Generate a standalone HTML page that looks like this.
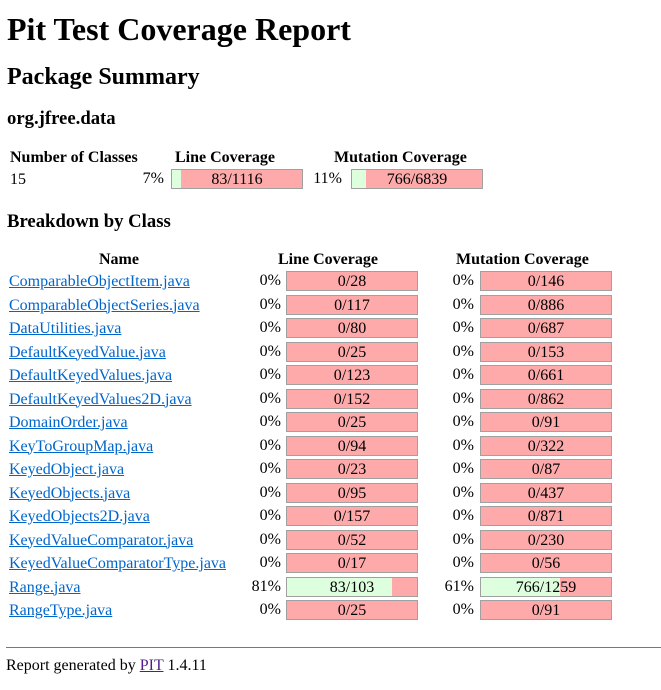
<!DOCTYPE html>
<html><head><meta charset="utf-8">
<style>
body{margin:0;width:661px;height:690px;background:#fff;font-family:"Liberation Serif",serif;font-size:16px;color:#000;position:relative;overflow:hidden}
.a{position:absolute;white-space:nowrap;line-height:1}
h1,h2,h3{margin:0;position:absolute;white-space:nowrap;line-height:1}
h1{font-size:32px;left:7px;top:13px}
h2{font-size:24px;left:7px;top:65px}
h3{font-size:18.7px;left:7px}
.th{font-weight:bold;font-size:16px}
.bar{position:absolute;height:18px;border:1px solid #a0a0a0;background:#faa;box-sizing:content-box}
.bar .g{position:absolute;left:0;top:0;height:100%;background:#dfd}
.bar .t{position:absolute;left:0;right:0;top:2px;text-align:center;line-height:1}
a{color:#06c;text-decoration:underline}
.pc{text-align:right;width:40px}
</style></head><body>
<h1>Pit Test Coverage Report</h1>
<h2>Package Summary</h2>
<h3 style="top:110px">org.jfree.data</h3>

<div class="a th" style="left:10px;top:150px">Number of Classes</div>
<div class="a th" style="left:175px;top:150px">Line Coverage</div>
<div class="a th" style="left:334px;top:150px">Mutation Coverage</div>
<div class="a" style="left:10px;top:172px">15</div>
<div class="a pc" style="left:124px;top:171px">7%</div>
<div class="bar" style="left:171px;top:169px;width:130px"><div class="g" style="width:7%"></div><div class="t">83/1116</div></div>
<div class="a pc" style="left:302px;top:171px">11%</div>
<div class="bar" style="left:351px;top:169px;width:130px"><div class="g" style="width:11%"></div><div class="t">766/6839</div></div>

<h3 style="top:213px">Breakdown by Class</h3>
<div class="a th" style="left:99px;top:252px">Name</div>
<div class="a th" style="left:278px;top:252px">Line Coverage</div>
<div class="a th" style="left:456px;top:252px">Mutation Coverage</div>
<div id="rows"></div>

<div class="a" style="left:6px;top:647px;width:655px;height:0;border-top:1px solid #777"></div>
<div class="a" style="left:6px;top:658px">Report generated by <a href="#" style="color:#551a8b">PIT</a> 1.4.11</div>

<script>
const names=["ComparableObjectItem.java","ComparableObjectSeries.java","DataUtilities.java","DefaultKeyedValue.java","DefaultKeyedValues.java","DefaultKeyedValues2D.java","DomainOrder.java","KeyToGroupMap.java","KeyedObject.java","KeyedObjects.java","KeyedObjects2D.java","KeyedValueComparator.java","KeyedValueComparatorType.java","Range.java","RangeType.java"];
const lineCovered=[0,0,0,0,0,0,0,0,0,0,0,0,0,83,0];
const lineTotal=[28,117,80,25,123,152,25,94,23,95,157,52,17,103,25];
const mutCovered=[0,0,0,0,0,0,0,0,0,0,0,0,0,766,0];
const mutTotal=[146,886,687,153,661,862,91,322,87,437,871,230,56,1259,91];
const host=document.getElementById('rows');
for(let i=0;i<names.length;i++){
  const y=271+i*23.5;
  const n=document.createElement('a');
  n.href='#';n.className='a';n.style.left='9px';n.style.top=(y+3)+'px';n.textContent=names[i];
  
  
  host.appendChild(n);
  const cols=[[lineCovered[i],lineTotal[i],241,286,'line'],[mutCovered[i],mutTotal[i],434,480,'mutation']];
  for(const c of cols){
    const pct=Math.round(c[0]/c[1]*100);
    const p=document.createElement('div');
    p.className='a pc';p.style.left=c[2]+'px';p.style.top=(y+2)+'px';p.textContent=pct+'%';
    
    
    host.appendChild(p);
    const b=document.createElement('div');
    b.className='bar';b.style.left=c[3]+'px';b.style.top=y+'px';b.style.width='130px';
    b.innerHTML='<div class="g" style="width:'+(c[0]/c[1]*100)+'%"></div><div class="t">'+c[0]+'/'+c[1]+'</div>';
    
    
    host.appendChild(b);
  }
}
</script>
</body></html>
